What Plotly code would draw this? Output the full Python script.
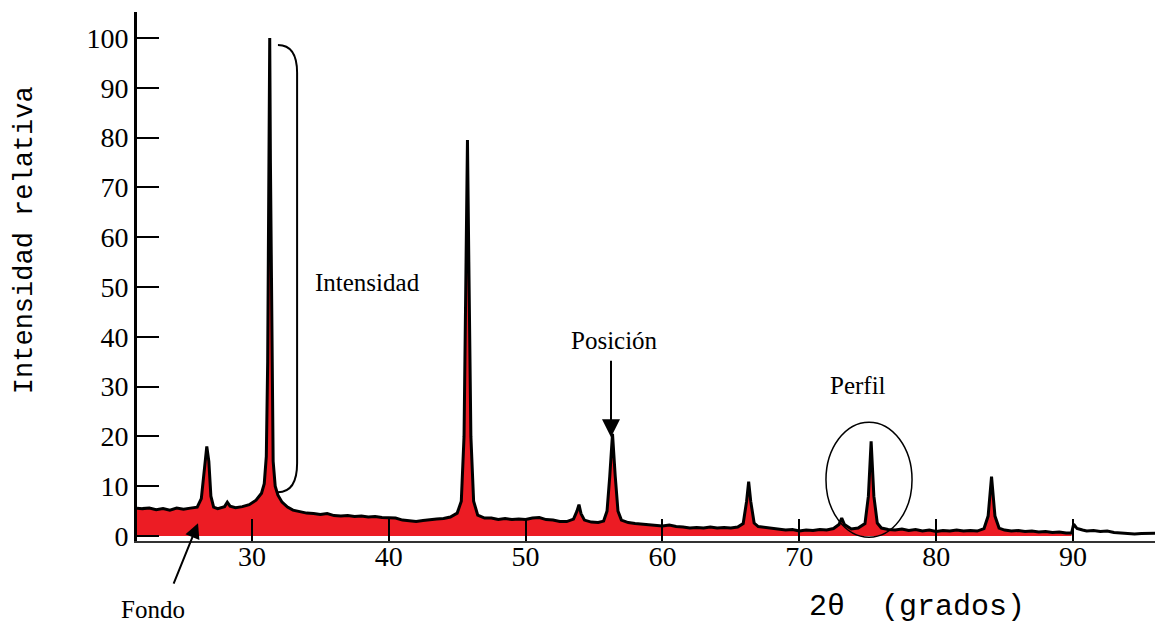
import plotly.graph_objects as go

# 2-theta (degrees) and relative intensity
two_theta = [21.6, 22.0, 22.5, 23.0, 23.5, 24.0, 24.5, 25.0, 25.5, 26.0,
             26.3, 26.5, 26.7, 26.85, 27.0, 27.2, 27.5, 28.0, 28.2, 28.4,
             28.8, 29.3, 29.8, 30.3, 30.7, 30.9, 31.05, 31.15, 31.25, 31.3,
             31.35, 31.45, 31.55, 31.7, 31.9, 32.2, 32.6, 33.0, 33.5, 34.0,
             34.5, 35.0, 35.5, 36.0, 36.5, 37.0, 37.5, 38.0, 38.5, 39.0,
             39.5, 40.0, 40.5, 41.0, 41.5, 42.0, 42.5, 43.0, 43.5, 44.0,
             44.5, 45.0, 45.3, 45.5, 45.65, 45.75, 45.85, 46.0, 46.2, 46.5,
             47.0, 47.5, 48.0, 48.5, 49.0, 49.5, 50.0, 50.5, 51.0, 51.5,
             52.0, 52.5, 53.0, 53.5, 53.75, 53.9, 54.05, 54.3, 54.8, 55.3,
             55.7, 55.95, 56.15, 56.35, 56.55, 56.75, 57.0, 57.5, 58.0, 58.5,
             59.0, 59.5, 60.0, 60.5, 61.0, 61.5, 62.0, 62.5, 63.0, 63.5,
             64.0, 64.5, 65.0, 65.5, 65.9, 66.15, 66.3, 66.45, 66.7, 67.0,
             67.5, 68.0, 68.5, 69.0, 69.5, 70.0, 70.5, 71.0, 71.5, 72.0,
             72.5, 72.9, 73.1, 73.3, 73.8, 74.3, 74.8, 75.05, 75.25, 75.45,
             75.7, 76.0, 76.5, 77.0, 77.5, 78.0, 78.5, 79.0, 79.5, 80.0,
             80.5, 81.0, 81.5, 82.0, 82.5, 83.0, 83.5, 83.8, 84.05, 84.3,
             84.6, 85.0, 85.5, 86.0, 86.5, 87.0, 87.5, 88.0, 88.5, 89.0,
             89.5, 89.9, 90.05, 90.3, 90.7, 91.0, 91.5, 92.0, 92.5, 93.0,
             93.5, 94.0, 94.5, 95.0, 95.5, 96.0, 96.3]
intensity = [5.6, 5.5, 5.6, 5.3, 5.5, 5.2, 5.6, 5.4, 5.6, 5.8,
             7.5, 13.0, 18.0, 15.0, 8.0, 5.8, 5.5, 5.9, 6.8, 6.0,
             5.7, 5.9, 6.3, 7.2, 8.6, 10.5, 16.0, 35.0, 75.0, 100.0,
             75.0, 35.0, 15.0, 10.0, 8.2, 6.8, 5.8, 5.2, 4.9, 4.6,
             4.5, 4.3, 4.5, 4.1, 4.0, 4.1, 3.9, 4.0, 3.8, 3.9,
             3.7, 3.6, 3.6, 3.2, 3.0, 2.9, 3.1, 3.3, 3.4, 3.5,
             3.8, 4.6, 7.0, 20.0, 55.0, 79.5, 55.0, 20.0, 7.0, 4.2,
             3.6, 3.6, 3.3, 3.5, 3.3, 3.4, 3.3, 3.6, 3.7, 3.3,
             3.2, 2.9, 2.9, 3.4, 5.0, 6.3, 4.5, 3.2, 2.8, 2.7,
             3.0, 5.0, 12.0, 20.5, 12.0, 5.0, 3.2, 2.7, 2.5, 2.4,
             2.3, 2.1, 2.0, 2.2, 1.9, 1.8, 1.6, 1.7, 1.6, 1.8,
             1.6, 1.7, 1.6, 1.8, 2.5, 7.0, 10.9, 7.0, 2.6, 1.9,
             1.7, 1.5, 1.3, 1.2, 1.3, 1.0, 1.2, 1.1, 1.3, 1.2,
             1.5, 2.3, 3.6, 2.3, 1.4, 1.6, 2.5, 8.0, 19.0, 8.0,
             2.6, 1.6, 1.3, 1.2, 1.4, 1.1, 1.3, 1.0, 1.2, 0.9,
             1.1, 1.0, 1.2, 1.0, 1.1, 1.0, 1.5, 4.0, 11.9, 4.0,
             1.6, 1.2, 1.0, 1.1, 0.9, 1.0, 0.8, 0.9, 0.7, 0.8,
             0.6, 0.6, 2.4, 1.5, 1.2, 1.0, 1.1, 0.9, 1.0, 0.7,
             0.6, 0.5, 0.4, 0.5, 0.5, 0.6, 0.6]

fill_limit = 89.95  # red shading stops here
x_ticks = [30, 40, 50, 60, 70, 80, 90]
y_ticks = [0, 10, 20, 30, 40, 50, 60, 70, 80, 90, 100]

RED = "#EC1C24"
SERIF = "Liberation Serif"
MONO = "Liberation Mono"

fx = [x for x in two_theta if x <= fill_limit]
fy = intensity[:len(fx)]

fig = go.Figure()
fig.add_trace(go.Scatter(x=fx, y=fy, mode="lines", fill="tozeroy",
                         fillcolor=RED, line=dict(color=RED, width=0),
                         hoverinfo="skip", showlegend=False))
fig.add_trace(go.Scatter(x=two_theta, y=intensity, mode="lines",
                         line=dict(color="black", width=3),
                         showlegend=False))

# bracket marking the intensity of the main peak
fig.add_shape(type="path",
              path="M 31.9,98.6 Q 33.3,98.6 33.3,93 L 33.3,14.6 Q 33.3,8.8 31.9,8.8",
              xref="x", yref="y", line=dict(color="black", width=2))
# ellipse marking the profile
fig.add_shape(type="circle", xref="x", yref="y",
              x0=71.95, x1=78.24, y0=-0.24, y1=22.86,
              line=dict(color="black", width=1.5))

ann_font = dict(family=SERIF, size=25, color="black")
fig.add_annotation(x=38.48, y=50.8, xref="x", yref="y", text="Intensidad",
                   showarrow=False, font=ann_font)
fig.add_annotation(x=56.46, y=39.3, xref="x", yref="y", text="Posición",
                   showarrow=False, font=ann_font)
fig.add_annotation(x=74.29, y=30.3, xref="x", yref="y", text="Perfil",
                   showarrow=False, font=ann_font)
fig.add_annotation(x=0.0156, y=-0.130, xref="paper", yref="paper",
                   text="Fondo", showarrow=False, font=ann_font,
                   xanchor="center", yanchor="middle")
# arrows
fig.add_annotation(x=56.24, y=19.85, xref="x", yref="y", text="",
                   showarrow=True, ax=0, ay=-78, arrowhead=2, arrowsize=1.8,
                   arrowwidth=2, arrowcolor="black")
fig.add_annotation(x=26.06, y=2.57, xref="x", yref="y", text="",
                   showarrow=True, ax=-25, ay=62, arrowhead=2, arrowsize=1.5,
                   arrowwidth=2, arrowcolor="black")

# axis titles
fig.add_annotation(x=-0.109, y=0.569, xref="paper", yref="paper",
                   text="Intensidad relativa", textangle=-90, showarrow=False,
                   xanchor="center", yanchor="middle",
                   font=dict(family=MONO, size=27, color="black"))
fig.add_annotation(x=0.760, y=-0.125, xref="paper", yref="paper",
                   text="2θ  (grados)", showarrow=False,
                   xanchor="center", yanchor="middle",
                   font=dict(family=MONO, size=30, color="black"))

fig.update_xaxes(range=[21.6, 96.58], tickvals=x_ticks, ticks="inside",
                 ticklen=22, tickwidth=2, tickcolor="black",
                 ticklabelstandoff=-10,
                 showline=True, linecolor="#333", linewidth=1.5,
                 showgrid=False, zeroline=False,
                 tickfont=dict(family=SERIF, size=28, color="black"))
fig.update_yaxes(range=[-1.0, 105.2], tickvals=y_ticks, ticks="inside",
                 ticklen=22, tickwidth=2, tickcolor="black",
                 showline=True, linecolor="black", linewidth=3,
                 showgrid=False, zeroline=False,
                 tickfont=dict(family=SERIF, size=28, color="black"))

# the page has an 8px body margin, so the figure is sized to fit the window
fig.update_layout(width=1155, height=617,
                  margin=dict(l=129, r=0, t=4, b=84),
                  plot_bgcolor="white", paper_bgcolor="white")

fig.write_html("out.html")
